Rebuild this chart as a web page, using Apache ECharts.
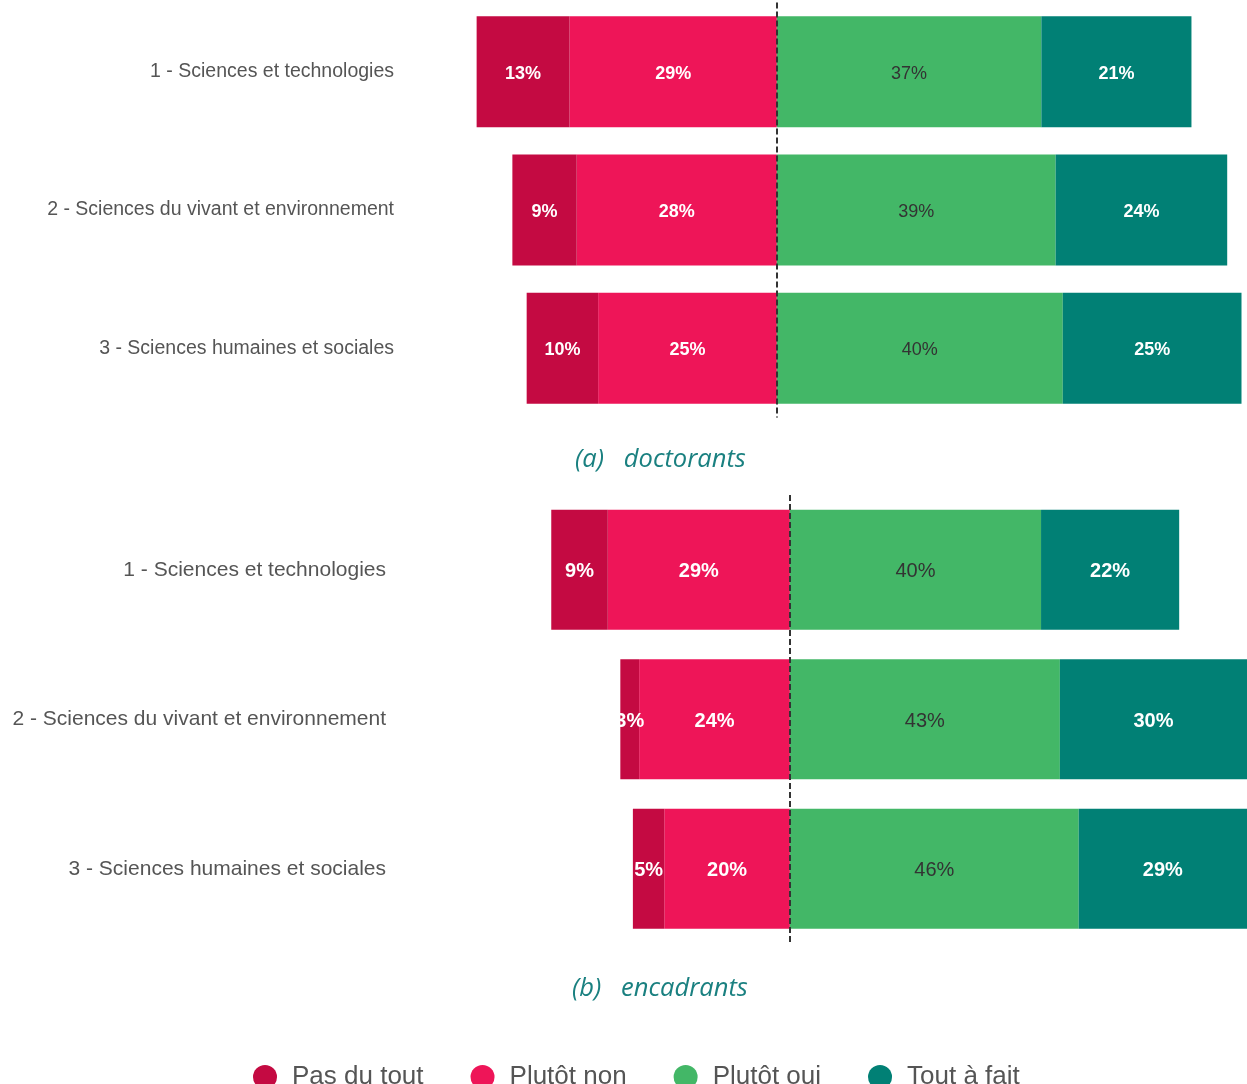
<!DOCTYPE html>
<html>
<head>
<meta charset="utf-8">
<script src="https://cdn.jsdelivr.net/npm/echarts@6/dist/echarts.min.js"></script>
<style>
  html, body { margin: 0; padding: 0; background: #fff; }
  #chart { width: 1247px; height: 1084px; }
</style>
</head>
<body>
<div id="chart"></div>
<script>
// categories (same for both panels)
const categories = [
  '1 - Sciences et technologies',
  '2 - Sciences du vivant et environnement',
  '3 - Sciences humaines et sociales'
]
const legendNames = ['Pas du tout', 'Plutôt non', 'Plutôt oui', 'Tout à fait']
const colors = ['#C40A42', '#EE1558', '#43B767', '#018075']

// (a) doctorants
const docPasDuTout = [13, 9, 10]
const docPlutotNon = [29, 28, 25]
const docPlutotOui = [37, 39, 40]
const docToutAFait = [21, 24, 25]

// (b) encadrants
const encPasDuTout = [9, 3, 5]
const encPlutotNon = [29, 24, 20]
const encPlutotOui = [40, 43, 46]
const encToutAFait = [22, 30, 29]

const chart = echarts.init(document.getElementById('chart'))

function makeSeries(gridIndex, values, barWidth, fontSize) {
  // values: [pas, non, oui, tout]; the two "non" answers go left of zero
  const order = [1, 0, 2, 3]
  const list = order.map((k) => {
    const neg = k < 2
    return {
      name: legendNames[k],
      type: 'bar',
      stack: 'g' + gridIndex,
      xAxisIndex: gridIndex,
      yAxisIndex: gridIndex,
      barWidth: barWidth,
      itemStyle: { color: colors[k] },
      label: {
        show: true,
        position: 'inside',
        offset: [0, 2],
        color: k === 2 ? '#333' : '#fff',
        fontFamily: 'Liberation Sans, Arial',
        fontWeight: k === 2 ? 'normal' : 'bold',
        fontSize: fontSize,
        formatter: (p) => Math.abs(p.value) + '%'
      },
      data: values[k].map(v => neg ? -v : v)
    }
  })
  list[2].markLine = {
    silent: true,
    symbol: 'none',
    label: { show: false },
    lineStyle: { color: '#333', type: [6, 3], width: 2 },
    data: [{ xAxis: 0 }]
  }
  return list
}

const yAxisBase = (gridIndex, fontSize, margin) => ({
  type: 'category',
  gridIndex: gridIndex,
  data: categories,
  inverse: true,
  axisLine: { show: false },
  axisTick: { show: false },
  axisLabel: {
    margin: margin,
    color: '#555',
    fontFamily: 'Liberation Sans, Arial',
    fontSize: fontSize
  }
})

const xAxisBase = (gridIndex, min, max) => ({
  type: 'value',
  gridIndex: gridIndex,
  min: min,
  max: max,
  show: false,
  splitLine: { show: false }
})

const captionStyle = {
  color: '#1A8080',
  fontStyle: 'italic',
  fontWeight: 'normal',
  fontFamily: 'Open Sans',
  fontSize: 25.5
}

chart.setOption({
  animation: false,
  title: [
    { text: '(a)   doctorants', left: 570, top: 442, textStyle: captionStyle },
    { text: '(b)   encadrants', left: 567, top: 971, textStyle: captionStyle }
  ],
  legend: {
    data: legendNames,
    left: 248,
    top: 1059,
    icon: 'circle',
    itemWidth: 24,
    itemHeight: 24,
    itemGap: 47,
    selectedMode: false,
    textStyle: { color: '#555', fontSize: 26, fontFamily: 'Liberation Sans, Arial', padding: [0, 0, 0, 10] }
  },
  grid: [
    { left: 398, top: 2.5, width: 848.5, height: 415 },
    { left: 388, top: 495, width: 859, height: 448.5 }
  ],
  xAxis: [xAxisBase(0, -53, 65.7), xAxisBase(1, -64, 72.8)],
  yAxis: [yAxisBase(0, 19.5, 4), yAxisBase(1, 21, 2)],
  series: [
    ...makeSeries(0, [docPasDuTout, docPlutotNon, docPlutotOui, docToutAFait], 111, 18),
    ...makeSeries(1, [encPasDuTout, encPlutotNon, encPlutotOui, encToutAFait], 120, 20)
  ]
})
</script>
</body>
</html>
